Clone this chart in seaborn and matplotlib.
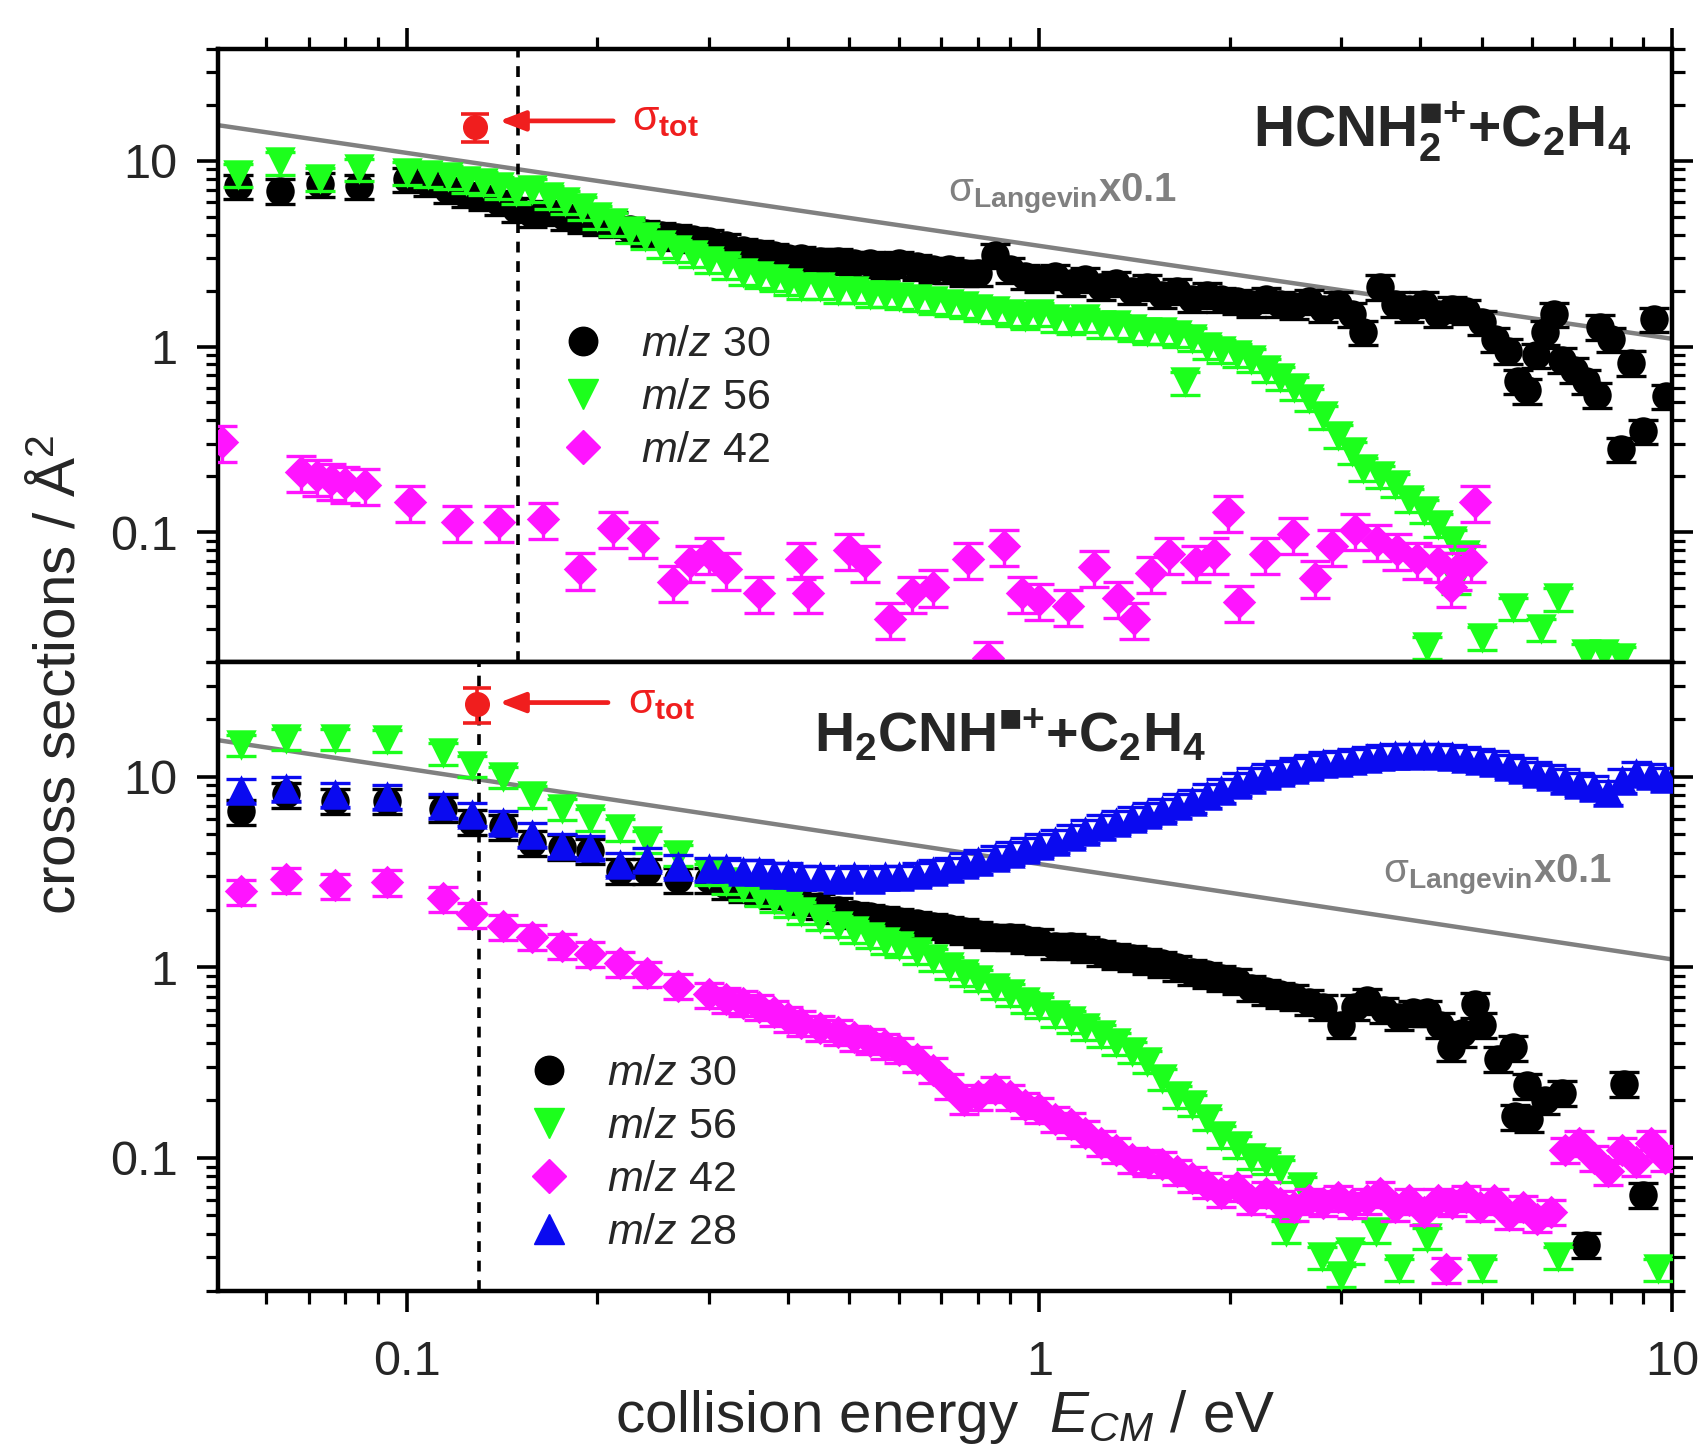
import numpy as np
import pandas as pd
import matplotlib
matplotlib.use("Agg")
import matplotlib.pyplot as plt
import seaborn as sns
from matplotlib.lines import Line2D
from matplotlib.ticker import FixedLocator, LogLocator, FuncFormatter, NullFormatter

# ---------------- data ----------------
# Upper panel: HCNH2*+ + C2H4
top_E_30 = [0.054, 0.063, 0.073, 0.084,
            0.100, 0.108, 0.116, 0.124, 0.132, 0.140, 0.149, 0.158, 0.168, 0.178, 0.189, 0.200, 0.212, 0.225, 0.238, 0.252, 0.267, 0.283, 0.300,
            0.320, 0.340, 0.360, 0.380, 0.400, 0.420, 0.450, 0.480, 0.510, 0.540, 0.570, 0.600, 0.640, 0.680, 0.720, 0.760, 0.800, 0.850, 0.900, 0.950,
            1.00, 1.06, 1.12, 1.18, 1.25, 1.32, 1.40, 1.48, 1.56, 1.65, 1.74, 1.84, 1.94,
            2.05, 2.16, 2.28, 2.40, 2.53, 2.67, 2.81, 2.96, 3.12, 3.25, 3.46, 3.65, 3.84, 4.05, 4.26, 4.49, 4.73,
            5.00, 5.25, 5.50, 5.70, 5.90, 6.10, 6.30, 6.50, 6.70, 7.00, 7.30, 7.60, 7.70, 8.00, 8.30, 8.60, 9.00, 9.35, 9.80]
top_S_30 = [7.3, 6.9, 7.5, 7.3,
            8.0, 7.6, 7.0, 6.6, 6.4, 6.0, 5.5, 5.2, 5.3, 5.0, 4.8, 4.7, 4.6, 4.3, 4.1, 4.0, 3.9, 3.8, 3.7,
            3.5, 3.3, 3.2, 3.1, 3.0, 3.0, 2.9, 2.9, 2.8, 2.8, 2.7, 2.8, 2.7, 2.6, 2.6, 2.5, 2.5, 3.1, 2.6, 2.4,
            2.3, 2.4, 2.2, 2.3, 2.1, 2.2, 2.0, 2.1, 1.9, 2.0, 1.8, 1.9, 1.8,
            1.75, 1.7, 1.8, 1.7, 1.65, 1.75, 1.6, 1.7, 1.5, 1.2, 2.1, 1.7, 1.6, 1.7, 1.5, 1.6, 1.55,
            1.35, 1.1, 0.95, 0.65, 0.58, 0.9, 1.2, 1.5, 0.85, 0.75, 0.65, 0.55, 1.28, 1.1, 0.28, 0.82, 0.35, 1.41, 0.54]

top_E_56 = [0.054, 0.063, 0.073, 0.084,
            0.100, 0.108, 0.116, 0.124, 0.132, 0.140, 0.149, 0.158, 0.168, 0.178, 0.189, 0.200, 0.212, 0.225, 0.238, 0.252, 0.267, 0.283, 0.300,
            0.320, 0.340, 0.360, 0.380, 0.400, 0.420, 0.450, 0.480, 0.510, 0.540, 0.570, 0.600, 0.640, 0.680, 0.720, 0.760, 0.800, 0.850, 0.900, 0.950,
            1.00, 1.06, 1.12, 1.18, 1.25, 1.32, 1.40, 1.48, 1.56,
            1.65, 1.70, 1.74, 1.84, 1.94, 2.05, 2.16, 2.28, 2.40, 2.53, 2.67, 2.81, 2.96, 3.12, 3.25, 3.46, 3.65, 3.84, 4.05, 4.10, 4.26, 4.49, 4.55, 4.70,
            5.00, 5.60, 6.20, 6.60, 7.30, 7.80, 8.30]
top_S_56 = [8.4, 9.8, 8.0, 9.0,
            8.6, 8.4, 8.2, 7.8, 7.6, 7.2, 6.8, 7.0, 6.4, 6.0, 5.6, 5.0, 4.6, 4.2, 3.9, 3.5, 3.3, 3.1, 2.9,
            2.7, 2.5, 2.4, 2.3, 2.2, 2.1, 2.1, 2.0, 2.0, 1.9, 1.9, 1.85, 1.8, 1.75, 1.7, 1.65, 1.6, 1.55, 1.5, 1.45,
            1.5, 1.4, 1.35, 1.4, 1.3, 1.3, 1.25, 1.2, 1.2,
            1.15, 0.64, 1.1, 1.0, 0.95, 0.9, 0.85, 0.75, 0.68, 0.6, 0.52, 0.42, 0.33, 0.27, 0.22, 0.2, 0.18, 0.15, 0.13, 0.024, 0.11, 0.09, 0.054, 0.075,
            0.027, 0.039, 0.03, 0.044, 0.022, 0.022, 0.021]

top_E_42 = [0.051, 0.068, 0.072, 0.076, 0.080, 0.086,
            0.101, 0.120, 0.140, 0.164, 0.188, 0.212, 0.236, 0.264, 0.280, 0.300,
            0.320, 0.360, 0.420, 0.430, 0.500, 0.530, 0.580, 0.630, 0.680, 0.770, 0.830, 0.880, 0.940,
            1.00, 1.11, 1.22, 1.33, 1.41, 1.50, 1.60, 1.77,
            1.89, 1.99, 2.07, 2.27, 2.52, 2.73, 2.90, 3.15, 3.42, 3.67, 3.96, 4.27, 4.47, 4.58, 4.81, 4.88]
top_S_42 = [0.305, 0.21, 0.20, 0.19, 0.185, 0.18,
            0.145, 0.113, 0.113, 0.118, 0.063, 0.105, 0.093, 0.054, 0.069, 0.076,
            0.063, 0.047, 0.072, 0.047, 0.080, 0.069, 0.034, 0.047, 0.051, 0.072, 0.021, 0.084, 0.047,
            0.043, 0.040, 0.065, 0.044, 0.034, 0.060, 0.076, 0.069,
            0.076, 0.128, 0.042, 0.076, 0.098, 0.057, 0.084, 0.103, 0.090, 0.080, 0.072, 0.069, 0.051, 0.063, 0.069, 0.145]

# Lower panel: H2CNH*+ + C2H4
bot_E_30 = [0.0547, 0.0645, 0.0769, 0.093,
            0.114, 0.127, 0.142, 0.158, 0.176, 0.195, 0.217, 0.240, 0.268, 0.300,
            0.320, 0.340, 0.360, 0.380, 0.400, 0.420, 0.450, 0.480, 0.510, 0.540, 0.570, 0.600, 0.640, 0.680, 0.720, 0.760, 0.800, 0.850, 0.900, 0.950,
            1.00, 1.06, 1.12, 1.18, 1.25, 1.32, 1.40, 1.48, 1.56, 1.65, 1.74, 1.84, 1.94,
            2.05, 2.16, 2.28, 2.40, 2.53, 2.67, 2.81,
            3.00, 3.15, 3.30, 3.50, 3.70, 3.90, 4.10, 4.30, 4.47, 4.65, 4.88,
            5.00, 5.30, 5.60, 5.65, 5.90, 5.95, 6.30, 6.70, 7.30, 8.40, 9.00]
bot_S_30 = [6.6, 8.1, 7.5, 7.5,
            6.8, 5.8, 5.5, 4.5, 4.3, 4.1, 3.2, 3.2, 2.9, 2.9,
            2.7, 2.6, 2.5, 2.4, 2.3, 2.2, 2.1, 2.0, 1.9, 1.85, 1.8, 1.75, 1.7, 1.65, 1.6, 1.55, 1.5, 1.45, 1.45, 1.4,
            1.38, 1.3, 1.3, 1.25, 1.2, 1.15, 1.12, 1.08, 1.05, 1.0, 0.95, 0.92, 0.88,
            0.85, 0.78, 0.75, 0.72, 0.7, 0.66, 0.62,
            0.5, 0.62, 0.67, 0.6, 0.55, 0.58, 0.58, 0.5, 0.38, 0.45, 0.64,
            0.5, 0.33, 0.38, 0.165, 0.24, 0.16, 0.2, 0.22, 0.035, 0.245, 0.064]

bot_E_56 = [0.0547, 0.0645, 0.0769, 0.093,
            0.114, 0.127, 0.142, 0.158, 0.176, 0.195, 0.217, 0.240, 0.268, 0.300,
            0.320, 0.340, 0.360, 0.380, 0.400, 0.420, 0.450, 0.480, 0.510, 0.540, 0.570, 0.600, 0.640, 0.680, 0.720, 0.760, 0.800, 0.850, 0.900, 0.950,
            1.00, 1.06, 1.12, 1.18, 1.25, 1.32, 1.40, 1.48, 1.56, 1.65, 1.74, 1.84, 1.94,
            2.05, 2.16, 2.28, 2.40, 2.45, 2.60, 2.80, 3.00, 3.10, 3.40, 3.70, 4.10, 5.00, 6.60, 9.50]
bot_S_56 = [14.7, 15.8, 15.8, 15.5,
            13.3, 11.4, 10.0, 7.9, 6.8, 6.0, 5.3, 4.6, 3.9, 3.1,
            2.8, 2.6, 2.4, 2.25, 2.1, 1.95, 1.8, 1.65, 1.55, 1.45, 1.35, 1.3, 1.2, 1.1, 1.0, 0.92, 0.86, 0.78, 0.72, 0.66,
            0.62, 0.56, 0.52, 0.48, 0.44, 0.4, 0.36, 0.32, 0.26, 0.21, 0.19, 0.16, 0.13,
            0.115, 0.10, 0.095, 0.086, 0.041, 0.07, 0.03, 0.024, 0.032, 0.041, 0.026, 0.038, 0.026, 0.03, 0.026]

bot_E_42 = [0.0547, 0.0645, 0.0769, 0.093,
            0.114, 0.127, 0.142, 0.158, 0.176, 0.195, 0.217, 0.240, 0.268, 0.300,
            0.320, 0.340, 0.360, 0.380, 0.400, 0.420, 0.450, 0.480, 0.510, 0.540, 0.570, 0.600, 0.640, 0.680, 0.720, 0.760, 0.800, 0.850, 0.900, 0.950,
            1.00, 1.06, 1.12, 1.18, 1.25, 1.32, 1.40, 1.48, 1.56, 1.65, 1.74, 1.84, 1.94,
            2.05, 2.16, 2.28, 2.40, 2.53, 2.67, 2.81, 2.96, 3.12, 3.29, 3.46, 3.65, 3.84, 4.05, 4.26, 4.40, 4.49, 4.73,
            4.98, 5.24, 5.52, 5.81, 6.12, 6.44, 6.78, 7.14, 7.52, 7.92, 8.34, 8.78, 9.25, 9.74]
bot_S_42 = [2.5, 2.9, 2.7, 2.8,
            2.3, 1.9, 1.64, 1.45, 1.3, 1.18, 1.05, 0.93, 0.8, 0.72,
            0.68, 0.65, 0.62, 0.58, 0.54, 0.51, 0.48, 0.46, 0.43, 0.41, 0.39, 0.37, 0.33, 0.29, 0.24, 0.2, 0.21, 0.23, 0.21, 0.19,
            0.18, 0.16, 0.15, 0.135, 0.12, 0.11, 0.098, 0.095, 0.093, 0.085, 0.078, 0.072, 0.065,
            0.07, 0.06, 0.065, 0.058, 0.055, 0.06, 0.058, 0.062, 0.057, 0.06, 0.065, 0.055, 0.06, 0.052, 0.06, 0.026, 0.058, 0.062,
            0.055, 0.06, 0.05, 0.055, 0.048, 0.052, 0.11, 0.12, 0.10, 0.085, 0.11, 0.095, 0.12, 0.10]

bot_E_28 = [0.0547, 0.0645, 0.0769, 0.093,
            0.114, 0.127, 0.142, 0.158, 0.176, 0.195, 0.217, 0.240, 0.268, 0.300,
            0.320, 0.340, 0.360, 0.380, 0.400, 0.420, 0.450, 0.480, 0.510, 0.540, 0.570, 0.600, 0.640, 0.680, 0.720, 0.760, 0.800, 0.850, 0.900, 0.950,
            1.00, 1.06, 1.12, 1.18, 1.25, 1.32, 1.40, 1.48, 1.56, 1.65, 1.74, 1.84, 1.94,
            2.05, 2.16, 2.28, 2.40, 2.53, 2.67, 2.81, 2.96, 3.12, 3.29, 3.46, 3.65, 3.84, 4.05, 4.26, 4.49, 4.73,
            4.98, 5.24, 5.52, 5.81, 6.12, 6.44, 6.78, 7.14, 7.52, 7.92, 8.34, 8.78, 9.25, 9.74]
bot_S_28 = [8.5, 8.7, 8.1, 7.9,
            7.1, 6.4, 5.8, 5.0, 4.4, 4.3, 3.5, 3.7, 3.4, 3.3,
            3.3, 3.2, 3.2, 3.1, 3.1, 3.0, 3.0, 2.9, 3.0, 2.9, 3.0, 3.0, 3.1, 3.2, 3.3, 3.5, 3.6, 3.8, 4.0, 4.2,
            4.4, 4.6, 4.9, 5.2, 5.5, 5.8, 6.1, 6.4, 6.7, 7.1, 7.5, 8.0, 8.5,
            9.2, 9.7, 10.2, 10.6, 11.0, 11.4, 11.8, 12.0, 12.3, 12.6, 12.8, 13.0, 13.0, 13.1, 13.0, 12.8, 12.6,
            12.3, 11.9, 11.4, 11.0, 10.5, 10.1, 9.6, 9.2, 8.8, 8.3, 9.6, 10.5, 10.2, 9.8]

# relative uncertainties
rel_err_top = {"30": 0.15, "56": 0.14, "42": 0.22}
rel_err_bot = {"30": 0.15, "56": 0.13, "42": 0.15, "28": 0.14}

# total cross sections (red points) and dashed reference energies
tot_top_E, tot_top_S, tot_top_err = [0.128], [15.2], [2.6]
tot_bot_E, tot_bot_S, tot_bot_err = [0.129], [24.2], [5.0]
vline_top_E, vline_bot_E = 0.150, 0.130

# Langevin cross section x0.1 (end points of the straight line on log-log)
langevin_E = [0.05, 10.0]
langevin_S = [15.6, 1.1]

# ---------------- styling ----------------
sns.set_theme(style="ticks")
plt.rcParams['font.family'] = ['Liberation Sans', 'DejaVu Sans']
plt.rcParams['mathtext.fontset'] = 'custom'
plt.rcParams['mathtext.rm'] = 'Liberation Sans'
plt.rcParams['mathtext.it'] = 'Liberation Sans:italic'
plt.rcParams['mathtext.bf'] = 'Liberation Sans:bold'
plt.rcParams['mathtext.fallback'] = 'stixsans'
plt.rcParams['axes.linewidth'] = 3.2

C_BLACK, C_GREEN, C_MAG, C_BLUE = "#000000", "#1cff1c", "#ff14ff", "#0a0af0"
C_RED, C_GREY = "#f01e1e", "#808080"
SIZES = {"o": 420, "v": 480, "D": 290, "^": 480}

W, H = 1708, 1451
fig = plt.figure(figsize=(W / 100, H / 100), dpi=100, facecolor="white")
L, R, T, M, B = 218, 1672, 49, 662, 1291
ax_top = fig.add_axes([L / W, 1 - M / H, (R - L) / W, (M - T) / H])
ax_bot = fig.add_axes([L / W, 1 - B / H, (R - L) / W, (B - M) / H])


def add_series(ax, E, S, rel, color, marker, z):
    df = pd.DataFrame({"E": E, "sigma": S})
    ax.errorbar(df["E"], df["sigma"], yerr=df["sigma"] * rel, fmt="none",
                ecolor=color, elinewidth=2.4, capsize=11, capthick=2.4, zorder=z)
    sns.scatterplot(data=df, x="E", y="sigma", ax=ax, color=color, marker=marker,
                    s=SIZES[marker], linewidth=0, legend=False, zorder=z + 0.5)


for ax in (ax_top, ax_bot):
    ax.set_xscale("log")
    ax.set_yscale("log")

# upper panel
add_series(ax_top, top_E_30, top_S_30, rel_err_top["30"], C_BLACK, "o", 3)
add_series(ax_top, top_E_56, top_S_56, rel_err_top["56"], C_GREEN, "v", 4)
add_series(ax_top, top_E_42, top_S_42, rel_err_top["42"], C_MAG, "D", 5)

# lower panel
add_series(ax_bot, bot_E_30, bot_S_30, rel_err_bot["30"], C_BLACK, "o", 3)
add_series(ax_bot, bot_E_56, bot_S_56, rel_err_bot["56"], C_GREEN, "v", 4)
add_series(ax_bot, bot_E_42, bot_S_42, rel_err_bot["42"], C_MAG, "D", 5)
add_series(ax_bot, bot_E_28, bot_S_28, rel_err_bot["28"], C_BLUE, "^", 6)

for ax, tE, tS, tErr, vx in ((ax_top, tot_top_E, tot_top_S, tot_top_err, vline_top_E),
                             (ax_bot, tot_bot_E, tot_bot_S, tot_bot_err, vline_bot_E)):
    sns.lineplot(x=langevin_E, y=langevin_S, ax=ax, color=C_GREY, lw=3.2, zorder=2)
    ax.axvline(vx, color="black", lw=2.6, ls=(0, (3, 2.4)), zorder=2)
    ax.errorbar(tE, tS, yerr=tErr, fmt="o", color=C_RED, ms=17, elinewidth=2.6,
                capsize=10, capthick=2.6, zorder=8)

# arrows to sigma_tot
arrow_style = dict(arrowstyle="-|>,head_length=1.3,head_width=0.5",
                   color=C_RED, lw=3.4, shrinkA=0, shrinkB=0)
ax_top.annotate("", xy=(0.140, 16.4), xytext=(0.212, 16.4), arrowprops=arrow_style, zorder=9)
ax_bot.annotate("", xy=(0.140, 24.5), xytext=(0.208, 24.5), arrowprops=arrow_style, zorder=9)

for ax, (xt, yt) in ((ax_top, (0.285, 0.868)), (ax_bot, (0.282, 0.918))):
    ax.text(xt, yt, r"$\mathrm{\sigma}_{\mathbf{tot}}$", transform=ax.transAxes,
            color=C_RED, fontsize=31, ha="left", va="baseline")

lang = r"$\mathrm{\sigma}_{\mathbf{Langevin}}\mathbf{x0.1}$"
ax_top.text(0.502, 0.752, lang, transform=ax_top.transAxes, color=C_GREY,
            fontsize=29, ha="left", va="baseline")
ax_bot.text(0.801, 0.650, lang, transform=ax_bot.transAxes, color=C_GREY,
            fontsize=29, ha="left", va="baseline")

ax_top.text(0.712, 0.84,
            r"$\mathbf{HCNH}_{\mathbf{2}}^{\blacksquare\mathbf{+}}\mathbf{{+}C}_{\mathbf{2}}\mathbf{H}_{\mathbf{4}}$",
            transform=ax_top.transAxes, fontsize=41, ha="left", va="baseline")
ax_bot.text(0.41, 0.857,
            r"$\mathbf{H}_{\mathbf{2}}\mathbf{CNH}^{\blacksquare\mathbf{+}}\mathbf{{+}C}_{\mathbf{2}}\mathbf{H}_{\mathbf{4}}$",
            transform=ax_bot.transAxes, fontsize=40, ha="left", va="baseline")

# legends
def handle(color, marker):
    return Line2D([0], [0], marker=marker, color="none", markerfacecolor=color,
                  markeredgecolor=color, markersize=np.sqrt(SIZES[marker]), linestyle="none")

lab = lambda n: r"$m/z$ " + n
ax_top.legend([handle(C_BLACK, "o"), handle(C_GREEN, "v"), handle(C_MAG, "D")],
              [lab("30"), lab("56"), lab("42")], loc="upper left",
              bbox_to_anchor=(0.236, 0.550), frameon=False, fontsize=31,
              handlelength=1.0, handletextpad=0.85, labelspacing=0.3,
              borderpad=0, borderaxespad=0)
ax_bot.legend([handle(C_BLACK, "o"), handle(C_GREEN, "v"), handle(C_MAG, "D"), handle(C_BLUE, "^")],
              [lab("30"), lab("56"), lab("42"), lab("28")], loc="upper left",
              bbox_to_anchor=(0.213, 0.377), frameon=False, fontsize=31,
              handlelength=1.0, handletextpad=0.85, labelspacing=0.3,
              borderpad=0, borderaxespad=0)

# axes, ticks
fmt = FuncFormatter(lambda v, _: f"{v:g}")
for ax in (ax_top, ax_bot):
    ax.set_xlim(0.0503, 10.0)
    ax.set_ylim(0.020, 40.0)
    ax.xaxis.set_major_locator(FixedLocator([0.1, 1, 10]))
    ax.xaxis.set_minor_locator(LogLocator(base=10, subs=np.arange(2, 10), numticks=30))
    ax.yaxis.set_major_locator(FixedLocator([0.1, 1, 10]))
    ax.yaxis.set_minor_locator(LogLocator(base=10, subs=np.arange(2, 10), numticks=30))
    ax.xaxis.set_major_formatter(fmt)
    ax.yaxis.set_major_formatter(fmt)
    ax.xaxis.set_minor_formatter(NullFormatter())
    ax.yaxis.set_minor_formatter(NullFormatter())
    ax.tick_params(which="major", direction="out", length=15, width=2.6, labelsize=35, color="black")
    ax.tick_params(which="minor", direction="out", length=9, width=2.3, color="black")
    ax.tick_params(axis="y", which="both", left=True, right=True, pad=14)
    ax.tick_params(axis="x", pad=20)
    ax.set_xlabel("")
    ax.set_ylabel("")
    for sp in ax.spines.values():
        sp.set_linewidth(3.2)
        sp.set_color("black")

ax_top.tick_params(axis="x", which="both", top=True, bottom=True, labelbottom=False)
ax_bot.tick_params(axis="x", which="both", top=False, bottom=True, labelbottom=True)

fig.text(60 / W, 1 - 675 / H, r"cross sections / Å$^{2}$", rotation=90,
         ha="center", va="center", fontsize=42)
fig.text(945 / W, 1 - 1432 / H, r"collision energy  $E_{CM}$ / eV",
         ha="center", va="baseline", fontsize=42)

fig.savefig("out.png", dpi=100, facecolor="white")
